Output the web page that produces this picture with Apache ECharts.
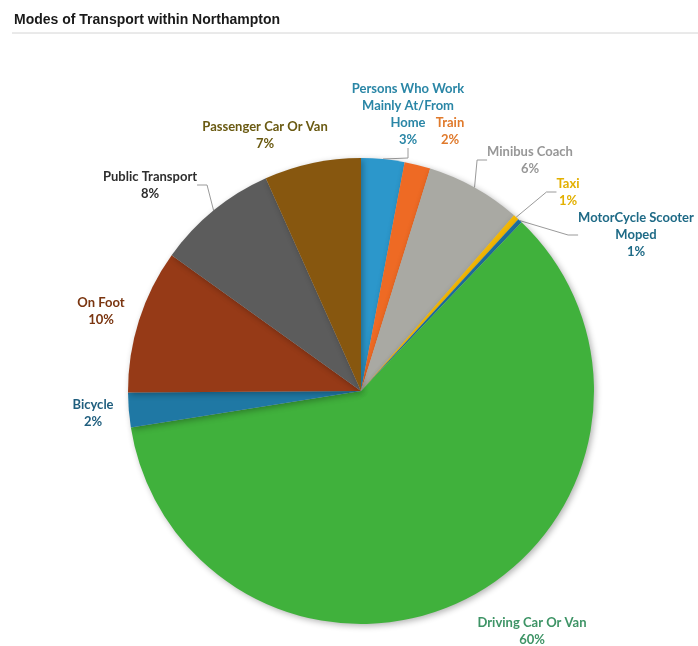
<!DOCTYPE html>
<html>
<head>
<meta charset="utf-8">
<script src="https://cdn.jsdelivr.net/npm/echarts@6/dist/echarts.min.js"></script>
<style>
html,body{margin:0;padding:0;background:#fff;}
#chart{width:698px;height:646px;}
</style>
</head>
<body>
<div id="chart"></div>
<script>
// Categories in clockwise order starting at 12 o'clock
var categories = [
  "Persons Who Work\nMainly At/From\nHome",
  "Train",
  "Minibus Coach",
  "Taxi",
  "MotorCycle Scooter\nMoped",
  "Driving Car Or Van",
  "Bicycle",
  "On Foot",
  "Public Transport",
  "Passenger Car Or Van"
];
// Slice shares (%)
var shares = [3.0, 1.8, 6.6, 0.4, 0.3, 60.4, 2.4, 10.0, 8.4, 6.7];
// Percentages printed on the chart
var printedPercents = [3, 2, 6, 1, 1, 60, 2, 10, 8, 7];

var sliceColors = ["#2C97CB", "#EE6A24", "#A9A9A3", "#F2B705", "#1E6E9E",
                   "#40B13C", "#1F78A4", "#963A17", "#5C5C5C", "#87570F"];
var labelColors = ["#2A86A6", "#E07A2C", "#979797", "#E3B000", "#1E6A86",
                   "#3E9466", "#1F5E7E", "#7A3510", "#2E2E2E", "#6A5A12"];
var showLine = [true, false, true, true, true, false, false, false, true, false];
// label anchor points (centre of label block)
var labelSpots = [[408,114],[450,131],[530,160],[568,192],[636,235],
                  [532,631],[93,413],[101,311],[150,185],[265,135]];

var chart = echarts.init(document.getElementById('chart'));
var data = categories.map(function(c, i){
  return {
    name: c,
    value: shares[i],
    itemStyle: {color: sliceColors[i]},
    label: {color: labelColors[i]},
    labelLine: {show: showLine[i]}
  };
});
chart.setOption({
  animation: false,
  backgroundColor: '#ffffff',
  title: {
    text: 'Modes of Transport within Northampton',
    left: 9, top: 8,
    textStyle: {fontFamily: 'Liberation Sans', fontSize: 14, fontWeight: 'bold', color: '#1a1a1a'}
  },
  graphic: [{
    type: 'line', shape: {x1: 12, y1: 33, x2: 698, y2: 33},
    style: {stroke: '#d4d4d4', lineWidth: 1}
  }],
  series: [{
    type: 'pie',
    center: [361, 391],
    radius: 233,
    startAngle: 90,
    clockwise: true,
    avoidLabelOverlap: false,
    data: data,
    itemStyle: {
      shadowBlur: 6, shadowColor: 'rgba(0,0,0,0.3)', shadowOffsetX: 2, shadowOffsetY: 2
    },
    label: {
      show: true,
      position: 'outside',
      fontFamily: 'Lato',
      fontWeight: 'bold',
      fontSize: 13,
      lineHeight: 17,
      align: 'center',
      formatter: function(p){ return p.name + '\n' + printedPercents[p.dataIndex] + '%'; }
    },
    labelLine: {
      length: 10, length2: 10,
      lineStyle: {color: '#9a9a9a', width: 1}
    },
    labelLayout: function(params){
      var s = labelSpots[params.dataIndex];
      return {x: s[0], y: s[1], align: 'center', verticalAlign: 'middle'};
    }
  }]
});
</script>
</body>
</html>
